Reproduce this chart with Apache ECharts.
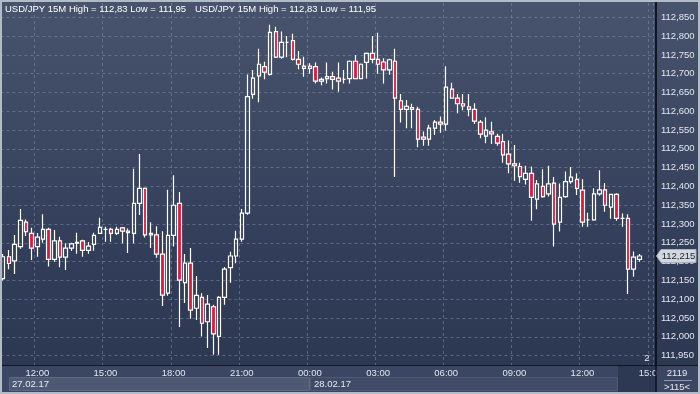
<!DOCTYPE html>
<html><head><meta charset="utf-8">
<script src="https://cdn.jsdelivr.net/npm/echarts@6/dist/echarts.min.js"></script>
<style>
html,body{margin:0;padding:0;background:#2c3752;}
#c{width:700px;height:394px;background:linear-gradient(to bottom,#48546e 0%,#3c4862 35%,#323e59 65%,#2b3650 100%);}
</style></head>
<body><div id="c"></div>
<script>
// 15-minute USD/JPY candles, 27.02.17 10:30 -> 28.02.17 14:30
const opens = [112.155,112.213,112.202,112.240,112.305,112.275,112.240,112.260,112.286,112.206,
112.255,112.212,112.236,112.249,112.255,112.230,112.246,112.275,112.286,112.286,
112.275,112.290,112.277,112.275,112.355,112.395,112.275,112.271,112.220,112.116,
112.270,112.355,112.144,112.196,112.076,112.105,112.040,112.080,112.001,112.105,
112.184,112.215,112.260,112.329,112.645,112.694,112.719,112.698,112.812,112.744,
112.783,112.788,112.738,112.720,112.720,112.719,112.680,112.687,112.692,112.688,
112.685,112.687,112.733,112.687,112.730,112.754,112.738,112.731,112.710,112.733,
112.628,112.605,112.610,112.605,112.531,112.526,112.555,112.571,112.566,112.659,
112.635,112.620,112.612,112.605,112.571,112.534,112.545,112.533,112.519,112.486,
112.460,112.453,112.419,112.435,112.366,112.400,112.380,112.409,112.305,112.373,
112.413,112.419,112.390,112.311,112.311,112.380,112.391,112.345,112.379,112.315,
112.315,112.180,112.206];
const closes = [112.213,112.195,112.246,112.310,112.280,112.236,112.265,112.286,112.206,112.255,
112.212,112.236,112.247,112.251,112.230,112.241,112.270,112.291,112.286,112.275,
112.286,112.281,112.281,112.355,112.395,112.271,112.271,112.220,112.111,112.270,
112.350,112.151,112.196,112.071,112.110,112.036,112.087,112.008,112.105,112.180,
112.215,112.260,112.329,112.639,112.688,112.725,112.704,112.810,112.744,112.783,
112.783,112.738,112.725,112.714,112.714,112.680,112.685,112.692,112.685,112.680,
112.685,112.733,112.687,112.725,112.754,112.738,112.725,112.710,112.737,112.635,
112.605,112.613,112.605,112.526,112.526,112.555,112.571,112.566,112.664,112.635,
112.620,112.614,112.605,112.574,112.539,112.550,112.540,112.515,112.484,112.460,
112.455,112.426,112.435,112.371,112.407,112.373,112.407,112.300,112.371,112.413,
112.425,112.395,112.305,112.311,112.380,112.391,112.350,112.379,112.315,112.315,
112.180,112.212,112.215];
const lows = [112.150,112.180,112.167,112.234,112.268,112.204,112.213,112.250,112.187,112.200,
112.185,112.178,112.228,112.221,112.213,112.221,112.229,112.274,112.253,112.253,
112.271,112.249,112.223,112.249,112.324,112.264,112.236,112.210,112.082,112.109,
112.240,112.026,112.090,112.048,112.045,112.001,111.970,111.952,111.952,112.085,
112.144,112.196,112.253,112.325,112.633,112.624,112.685,112.695,112.742,112.740,
112.744,112.735,112.712,112.692,112.700,112.674,112.669,112.674,112.658,112.652,
112.674,112.674,112.685,112.685,112.687,112.728,112.700,112.674,112.697,112.425,
112.570,112.555,112.555,112.504,112.508,112.508,112.537,112.543,112.549,112.635,
112.595,112.603,112.587,112.566,112.528,112.515,112.513,112.508,112.463,112.435,
112.415,112.410,112.405,112.309,112.339,112.370,112.373,112.240,112.280,112.370,
112.407,112.377,112.293,112.293,112.309,112.375,112.333,112.314,112.309,112.293,
112.114,112.160,112.200];
const highs = [112.220,112.231,112.271,112.340,112.312,112.290,112.276,112.326,112.290,112.284,
112.266,112.249,112.250,112.277,112.258,112.252,112.277,112.317,112.293,112.290,
112.293,112.292,112.288,112.447,112.486,112.397,112.305,112.294,112.281,112.391,
112.430,112.385,112.220,112.236,112.162,112.116,112.111,112.085,112.108,112.186,
112.226,112.282,112.340,112.698,112.710,112.766,112.732,112.830,112.825,112.812,
112.800,112.806,112.760,112.745,112.728,112.730,112.690,112.730,112.705,112.730,
112.710,112.735,112.750,112.727,112.756,112.800,112.809,112.741,112.740,112.766,
112.646,112.630,112.620,112.612,112.546,112.564,112.577,112.586,112.720,112.676,
112.646,112.646,112.646,112.621,112.577,112.584,112.572,112.540,112.540,112.522,
112.510,112.463,112.455,112.453,112.417,112.446,112.455,112.425,112.408,112.440,
112.452,112.435,112.419,112.330,112.395,112.443,112.409,112.380,112.382,112.328,
112.326,112.227,112.220];
const yTicks = [111.95,112.00,112.05,112.10,112.15,112.20,112.25,112.30,112.35,112.40,
112.45,112.50,112.55,112.60,112.65,112.70,112.75,112.80,112.85];
const firstSlot = {h:10, m:30};
const slotCount = 115;        // visible bar slots (">115<")
const titleText = 'USD/JPY 15M High = 112,83 Low = 111,95';
const dates = ['27.02.17','28.02.17'];
const footerTop = '2119', footerBottom = '>115<';

const categories = [];
for (let i = 0; i < slotCount; i++) {
  const t = firstSlot.h*60 + firstSlot.m + 15*i;
  const h = Math.floor(t/60) % 24, m = t % 60;
  categories.push(String(h).padStart(2,'0') + ':' + String(m).padStart(2,'0'));
}
const candles = opens.map((o,i)=>[o, closes[i], lows[i], highs[i]]);
const lastPrice = closes[closes.length-1];
const fmt = v => v.toFixed(3).replace('.', ',');
const FONT = 'Liberation Sans';
const gridColor = 'rgba(125,140,170,0.55)';

const chart = echarts.init(document.getElementById('c'), null, {renderer:'canvas'});
const staticGraphics = [
    // bottom time strip
    {type:'rect', z:1, shape:{x:0, y:365.5, width:656, height:27}, style:{fill:'#3b4762'}},
    {type:'rect', z:2, shape:{x:9.5, y:377.5, width:300, height:13}, style:{fill:'#4e5a74', stroke:'#5d6984', lineWidth:1}},
    {type:'rect', z:2, shape:{x:310.5, y:377.5, width:307, height:13}, style:{fill:'#404c67', stroke:'#4d5975', lineWidth:1}},
    {type:'rect', z:2, shape:{x:618, y:366, width:38, height:26}, style:{fill:'#2d3852'}},
    {type:'text', z:3, style:{x:12, y:384, text:dates[0], fill:'#e6e9f0', font:'9.5px "Liberation Sans"', verticalAlign:'middle'}},
    {type:'text', z:3, style:{x:314, y:384, text:dates[1], fill:'#e6e9f0', font:'9.5px "Liberation Sans"', verticalAlign:'middle'}},
    // right bottom panel
    {type:'rect', z:7, shape:{x:656.5, y:365.5, width:43.5, height:28}, style:{fill:'#3b4762'}},
    {type:'text', z:8, style:{x:677, y:373, text:footerTop, fill:'#e6e9f0', font:'9.5px "Liberation Sans"', align:'center', verticalAlign:'middle'}},
    {type:'line', z:8, shape:{x1:664, y1:380.5, x2:692, y2:380.5}, style:{stroke:'#8f99ad', lineWidth:1}},
    {type:'text', z:8, style:{x:677, y:387, text:footerBottom, fill:'#e6e9f0', font:'9.5px "Liberation Sans"', align:'center', verticalAlign:'middle'}},
    {type:'line', z:8, shape:{x1:0, y1:365.5, x2:700, y2:365.5}, style:{stroke:'#121826', lineWidth:1}},
    {type:'line', z:8, shape:{x1:656, y1:0, x2:656, y2:392}, style:{stroke:'#0e1320', lineWidth:1.5}},
    {type:'text', z:8, style:{x:647, y:358, text:'2', fill:'#e6e9f0', font:'9.5px "Liberation Sans"', align:'center', verticalAlign:'middle'}},
    // outer frame
    {type:'rect', z:20, shape:{x:0, y:0, width:700, height:394}, style:{fill:'none', stroke:'#b3bbc7', lineWidth:4}}
];
chart.setOption({
  backgroundColor: 'transparent',
  animation: false,
  title: [
    {text: titleText, left: 5, top: 4, padding: 0, textStyle:{color:'#ffffff', fontSize:9.5, fontWeight:'normal', fontFamily:FONT}},
    {text: titleText, left: 195, top: 4, padding: 0, textStyle:{color:'#ffffff', fontSize:9.5, fontWeight:'normal', fontFamily:FONT}}
  ],
  grid: {left: 0.4, right: 46.5, top: 3, bottom: 29, containLabel: false},
  xAxis: {
    type: 'category', data: categories, boundaryGap: true, z: 5,
    axisLine: {show: true, lineStyle: {color: '#121826', width: 1}},
    axisTick: {show: false},
    axisLabel: {
      interval: (idx) => idx % 12 === 6, margin: 3,
      fontSize: 9.5, fontFamily: FONT,
      color: (v, idx) => idx === slotCount - 1 ? '#66718c' : '#e2e6ee'
    },
    splitLine: {show: true, interval: (idx) => idx % 12 === 6, lineStyle: {color: gridColor, type: [3,3], width: 1}}
  },
  yAxis: {
    type: 'value', position: 'right', min: 111.925, max: 112.888, interval: 0.025, offset: 2.5,
    axisLine: {show: true, lineStyle: {color: '#0e1320', width: 1.5}},
    axisTick: {show: false},
    splitLine: {show: false},
    axisLabel: {
      margin: 5, fontSize: 9.5, fontFamily: FONT, color: '#e2e6ee',
      showMinLabel: true, showMaxLabel: true,
      formatter: (v) => {
        const k = v*20;
        if (Math.abs(k - Math.round(k)) > 1e-4 || v < 111.94 || v > 112.86) return '';
        return fmt(v);
      }
    }
  },
  series: [
    {
      type: 'line', data: [], z: 1, silent: true,
      markLine: {
        silent: true, symbol: 'none', animation: false,
        label: {show: false},
        lineStyle: {color: gridColor, type: [3,3], width: 1},
        data: yTicks.map(v => ({yAxis: v}))
      }
    },
    {
      type: 'candlestick', data: candles, z: 6, barWidth: 4,
      itemStyle: {
        color: 'rgba(0,0,0,0)', color0: '#e3173d',
        borderColor: '#ffffff', borderColor0: '#ffffff', borderColorDoji: '#ffffff',
        borderWidth: 1.2
      }
    }
  ],
  graphic: staticGraphics
});
// last-price tag placed through the value axis
const py = chart.convertToPixel({yAxisIndex: 0}, lastPrice);
chart.setOption({
  graphic: staticGraphics.concat([
    {type:'polygon', z:10, shape:{points:[[656.5,py],[661,py-6.5],[696,py-6.5],[696,py+6.5],[661,py+6.5]]}, style:{fill:'#d3d7df', stroke:'#aab1bd', lineWidth:1}},
    {type:'text', z:11, style:{x:678.5, y:py+0.5, text:fmt(lastPrice), fill:'#1c2230', font:'9.5px "Liberation Sans"', align:'center', verticalAlign:'middle'}}
  ])
}, {replaceMerge: ['graphic']});
</script></body></html>
